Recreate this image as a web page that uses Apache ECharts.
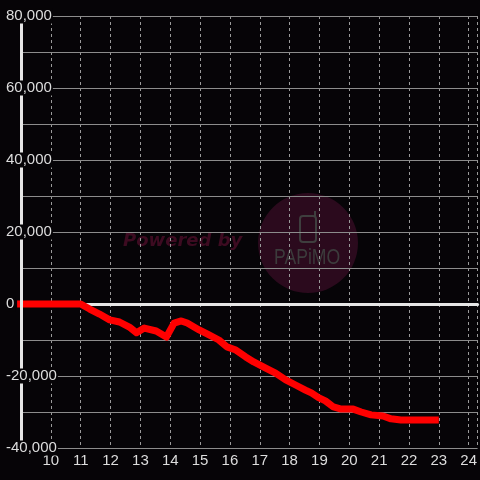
<!DOCTYPE html>
<html>
<head>
<meta charset="utf-8">
<script src="https://cdn.jsdelivr.net/npm/echarts@6/dist/echarts.min.js"></script>
<style>
  html, body { margin: 0; padding: 0; background: #060407; }
  #chart { width: 480px; height: 480px; }
</style>
</head>
<body>
<div id="chart"></div>
<script>
// hours of the day (x) and running balance (y)
var hours = [8.87, 11.0, 11.3, 11.63, 11.97, 12.3, 12.63, 12.87, 13.13, 13.53, 13.87, 14.13, 14.37, 14.57,
  14.97, 15.3, 15.63, 15.9, 16.2, 16.53, 16.8, 17.2, 17.53, 17.87, 18.2, 18.53, 18.73, 18.97, 19.2,
  19.47, 19.73, 20.13, 20.4, 20.73, 21.13, 21.4, 21.73, 23.0];
var values = [0, 0, -1400, -2800, -4400, -5000, -6400, -8000, -6700, -7500, -9200, -5300, -4700, -5300,
  -7200, -8600, -10000, -11900, -12800, -14700, -16100, -17800, -19200, -21100, -22500, -23900, -24700,
  -26000, -26900, -28600, -29200, -29200, -30000, -30800, -31100, -31900, -32200, -32200];

var xMin = 9, xMax = 24.3;
var yMin = -40000, yMax = 80000;
var bg = '#060407';

var points = hours.map(function (h, i) { return [h, values[i]]; });

var chart = echarts.init(document.getElementById('chart'));

chart.setOption({
  backgroundColor: bg,
  animation: false,
  grid: { left: 21, right: 0, top: 16, bottom: 32 },
  xAxis: [
    {
      // dashed verticals + hour labels
      type: 'value', position: 'bottom', min: xMin, max: xMax, interval: 1, z: 0,
      axisLine: { show: false }, axisTick: { show: false },
      splitLine: { show: true, lineStyle: { color: '#9a9a9a', width: 1, type: [3, 3] } },
      axisLabel: {
        color: '#dddddd', fontSize: 15, fontFamily: 'Liberation Sans', margin: 5,
        showMinLabel: false, showMaxLabel: false,
        formatter: function (v) { return Number.isInteger(v) ? String(v) : ''; }
      }
    },
    {
      // white zero line
      type: 'value', position: 'bottom', min: xMin, max: xMax, z: 1.5,
      axisLine: { show: true, onZero: true, lineStyle: { color: '#e6e6e6', width: 3 } },
      axisTick: { show: false }, axisLabel: { show: false }, splitLine: { show: false }
    }
  ],
  yAxis: [
    {
      // horizontal grid
      type: 'value', position: 'left', min: yMin, max: yMax, interval: 10000, z: 1,
      axisLine: { show: false }, axisTick: { show: false }, axisLabel: { show: false },
      splitLine: { show: true, lineStyle: { color: '#8c8c8c', width: 1 } }
    },
    {
      // left axis line, above the series
      type: 'value', position: 'left', min: yMin, max: yMax, interval: 20000, z: 3,
      axisLine: { show: true, onZero: false, lineStyle: { color: '#e6e6e6', width: 3 } },
      axisTick: { show: false }, axisLabel: { show: false }, splitLine: { show: false }
    },
    {
      // labels with background, topmost
      type: 'value', position: 'left', min: yMin, max: yMax, interval: 20000, z: 4,
      axisLine: { show: false, onZero: false }, axisTick: { show: false }, splitLine: { show: false },
      axisLabel: {
        color: '#dddddd', fontSize: 15, fontFamily: 'Liberation Sans', align: 'left', margin: 15,
        backgroundColor: bg, padding: [0, 1, 0, 0], lineHeight: 15,
        formatter: function (v) { return echarts.format.addCommas(v); }
      }
    }
  ],
  graphic: {
    elements: [
      { type: 'circle', z: -10, shape: { cx: 308, cy: 243, r: 50 }, style: { fill: '#2b0a1d' } },
      { type: 'text', z: -10, x: 123, y: 241,
        style: { text: 'Powered by', fill: '#3d0b21', font: 'italic bold 18px "DejaVu Sans"', textVerticalAlign: 'middle' } },
      { type: 'rect', z: -9, shape: { x: 300, y: 216, width: 16, height: 26, r: 3 },
        style: { fill: null, stroke: '#3e3e3e', lineWidth: 2 } },
      { type: 'line', z: -9, shape: { x1: 315, y1: 216, x2: 315, y2: 211 },
        style: { stroke: '#3e3e3e', lineWidth: 2 } },
      { type: 'text', z: -9, x: 274, y: 258, scaleX: 0.8,
        style: { text: 'PAPiMO', fill: '#3c3c3c', font: '22px "Liberation Sans"', textVerticalAlign: 'middle' } }
    ]
  },
  series: [{
    type: 'line', xAxisIndex: 0, yAxisIndex: 0, z: 2,
    data: points, showSymbol: false, clip: false,
    lineStyle: { color: '#ff0000', width: 7, join: 'round', cap: 'butt' }
  }]
});
</script>
</body>
</html>
